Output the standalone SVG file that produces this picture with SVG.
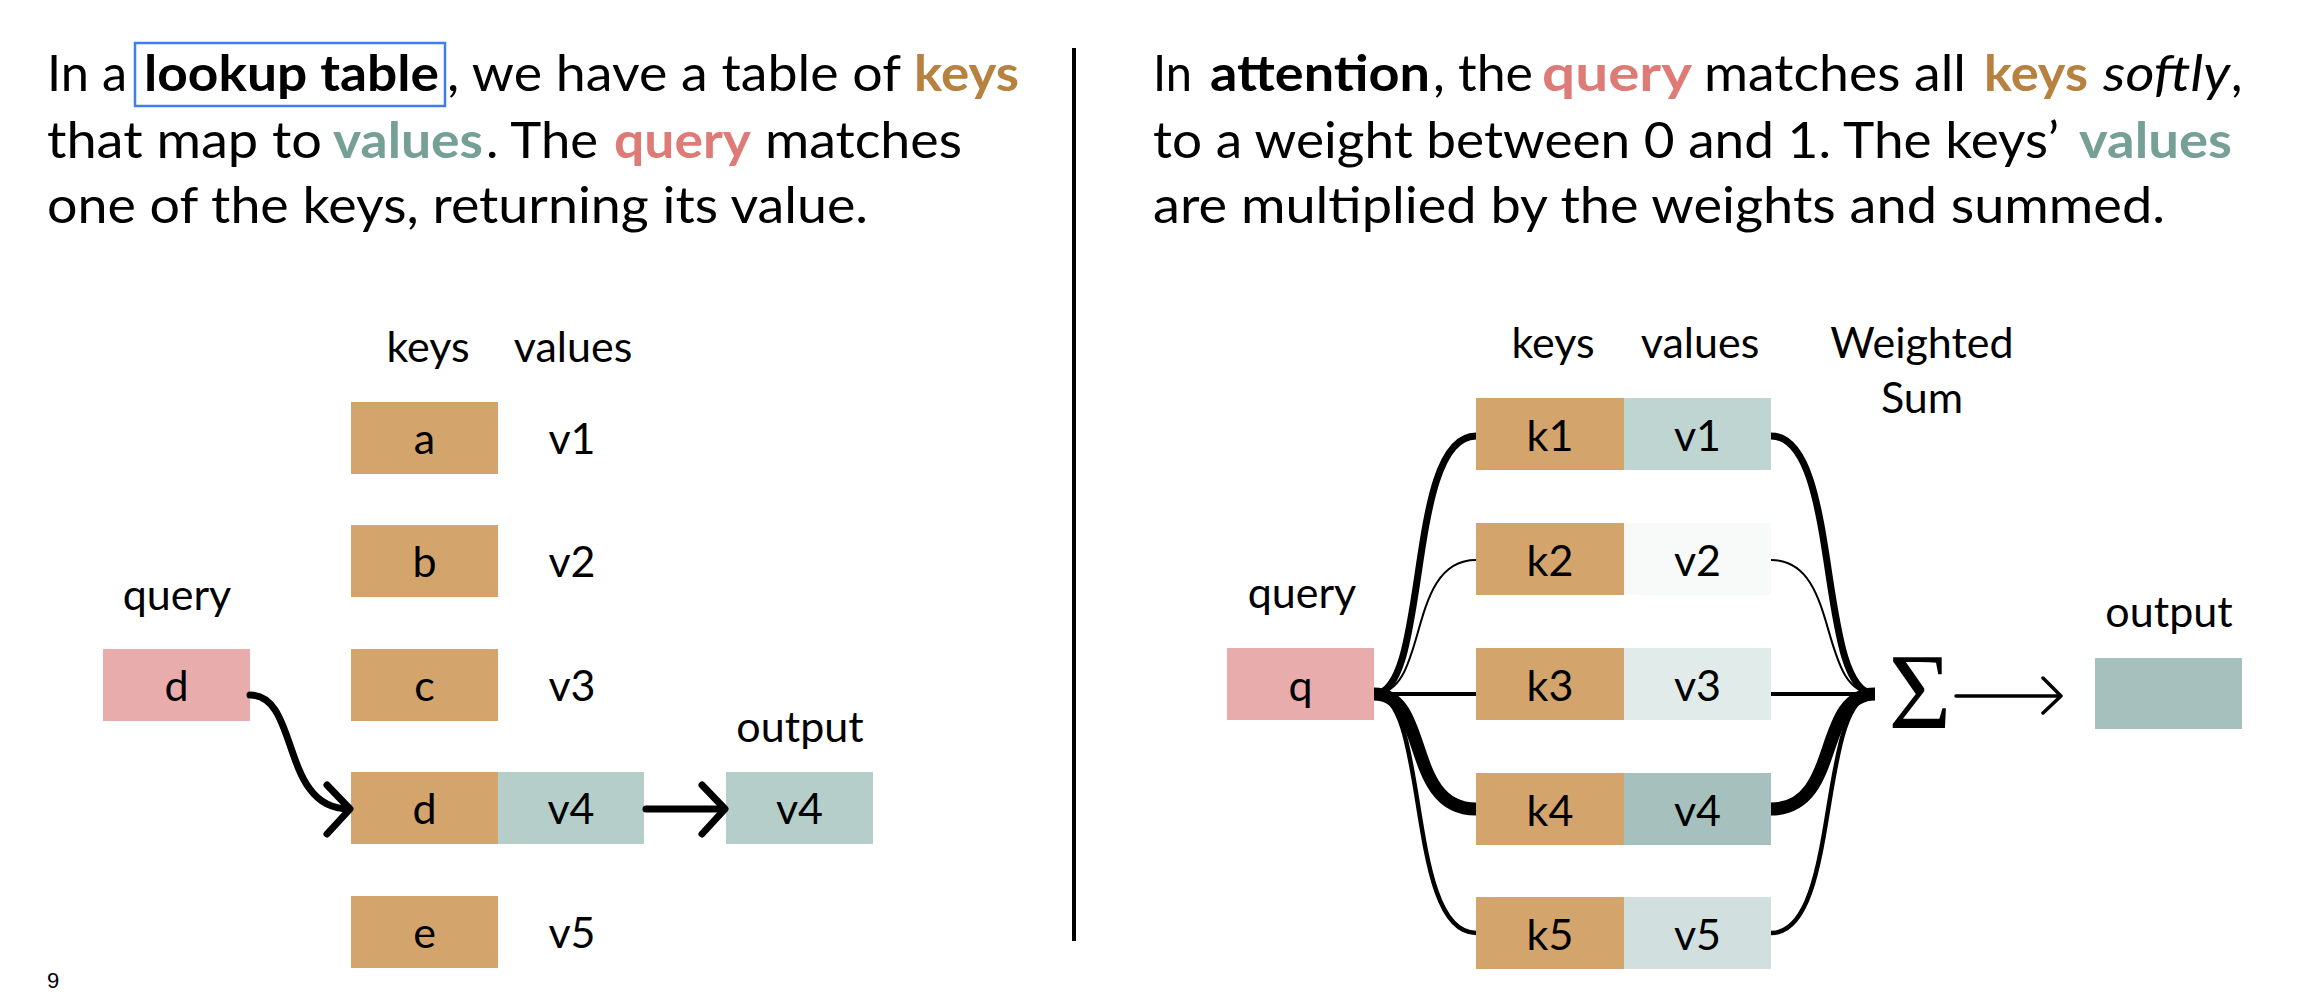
<svg xmlns="http://www.w3.org/2000/svg" width="2306" height="996" viewBox="0 0 2306 996">
<style>
.p{font-family:Lato,"Open Sans",sans-serif;font-size:50px;fill:#000}
.b{font-weight:bold}
.tan{fill:#b7813f}
.teal{fill:#76a096}
.pink{fill:#df7b77}
.lbl{font-family:Lato,"Noto Sans",sans-serif;font-size:43px;fill:#000;text-anchor:middle}
.key{fill:#d3a46c}
.qry{fill:#e8acad}
.wire{fill:none;stroke:#000;stroke-linecap:butt}
.arr{fill:none;stroke:#000;stroke-width:7;stroke-linecap:round;stroke-linejoin:round}
</style>
<rect width="2306" height="996" fill="#fff"/>

<g id="left-text">
<rect x="135" y="43" width="310" height="63" fill="none" stroke="#3d7ef0" stroke-width="2.5"/>
<text class="p" x="47" y="91" textLength="80" lengthAdjust="spacingAndGlyphs">In a</text>
<text class="p b" x="144" y="91" textLength="295" lengthAdjust="spacingAndGlyphs">lookup table</text>
<text class="p" x="447" y="91" textLength="454" lengthAdjust="spacingAndGlyphs">, we have a table of</text>
<text class="p b tan" x="914" y="91" textLength="105" lengthAdjust="spacingAndGlyphs">keys</text>
<text class="p" x="47" y="158" textLength="275" lengthAdjust="spacingAndGlyphs">that map to</text>
<text class="p b teal" x="333" y="158" textLength="150" lengthAdjust="spacingAndGlyphs">values</text>
<text class="p" x="486" y="158" textLength="112" lengthAdjust="spacingAndGlyphs">. The</text>
<text class="p b pink" x="614" y="158" textLength="137" lengthAdjust="spacingAndGlyphs">query</text>
<text class="p" x="765" y="158" textLength="197" lengthAdjust="spacingAndGlyphs">matches</text>
<text class="p" x="47" y="223" textLength="821" lengthAdjust="spacingAndGlyphs">one of the keys, returning its value.</text>
</g>

<line id="divider" x1="1074" y1="48" x2="1074" y2="941" stroke="#000" stroke-width="4"/>

<g id="right-text">
<text class="p" x="1153" y="91" textLength="39" lengthAdjust="spacingAndGlyphs">In</text>
<text class="p b" x="1210" y="91" textLength="220" lengthAdjust="spacingAndGlyphs">attention</text>
<text class="p" x="1433" y="91" textLength="100" lengthAdjust="spacingAndGlyphs">, the</text>
<text class="p b pink" x="1542" y="91" textLength="150" lengthAdjust="spacingAndGlyphs">query</text>
<text class="p" x="1704" y="91" textLength="262" lengthAdjust="spacingAndGlyphs">matches all</text>
<text class="p b tan" x="1984" y="91" textLength="104" lengthAdjust="spacingAndGlyphs">keys</text>
<text class="p" x="2103" y="91" textLength="127" lengthAdjust="spacingAndGlyphs" font-style="italic">softly</text>
<text class="p" x="2231" y="91">,</text>
<text class="p" x="1153" y="158" textLength="906" lengthAdjust="spacingAndGlyphs">to a weight between 0 and 1. The keys’</text>
<text class="p b teal" x="2079" y="158" textLength="153" lengthAdjust="spacingAndGlyphs">values</text>
<text class="p" x="1153" y="223" textLength="1012" lengthAdjust="spacingAndGlyphs">are multiplied by the weights and summed.</text>
</g>

<!-- Left: lookup table -->
<g id="lt-headers">
<text class="lbl" x="428" y="362">keys</text>
<text class="lbl" x="573" y="362">values</text>
</g>
<g id="lt-row-a"><rect class="key" x="351" y="402" width="147" height="72"/><text class="lbl" x="424.5" y="454">a</text><text class="lbl" x="572" y="454">v1</text></g>
<g id="lt-row-b"><rect class="key" x="351" y="525" width="147" height="72"/><text class="lbl" x="424.5" y="577">b</text><text class="lbl" x="572" y="577">v2</text></g>
<g id="lt-row-c"><rect class="key" x="351" y="649" width="147" height="72"/><text class="lbl" x="424.5" y="701">c</text><text class="lbl" x="572" y="701">v3</text></g>
<g id="lt-row-d"><rect class="key" x="351" y="772" width="147" height="72"/><rect x="498" y="772" width="146" height="72" fill="#b6cec9"/><text class="lbl" x="424.5" y="824">d</text><text class="lbl" x="571" y="824">v4</text></g>
<g id="lt-row-e"><rect class="key" x="351" y="896" width="147" height="72"/><text class="lbl" x="424.5" y="948">e</text><text class="lbl" x="572" y="948">v5</text></g>
<g id="lt-query"><text class="lbl" x="177" y="610">query</text><rect class="qry" x="103" y="649" width="147" height="72"/><text class="lbl" x="176.5" y="701">d</text></g>
<g id="lt-output"><text class="lbl" x="800" y="742">output</text><rect x="726" y="772" width="147" height="72" fill="#b6cec9"/><text class="lbl" x="799.5" y="824">v4</text></g>

<g id="lt-connectors">
<path class="arr" d="M250,695 C300,695 280,809 349,809"/>
<path class="arr" d="M327,785 L350,809 L327,834"/>
<path class="arr" d="M646,809 L724,809" stroke-linecap="butt"/>
<path class="arr" d="M702,785 L725,809 L702,834"/>
</g>

<!-- Right: attention -->
<g id="at-headers">
<text class="lbl" x="1553" y="358">keys</text>
<text class="lbl" x="1700" y="358">values</text>
<text class="lbl" x="1922" y="358">Weighted</text>
<text class="lbl" x="1922" y="413">Sum</text>
</g>

<g id="at-connectors">
<path class="wire" stroke-width="7" d="M1374,694 C1430,694 1405,436 1476,436"/>
<path class="wire" stroke-width="2" d="M1374,694 C1430,694 1405,560 1476,560"/>
<path class="wire" stroke-width="4" d="M1374,694 L1476,694"/>
<path class="wire" stroke-width="13" d="M1374,694 C1430,694 1405,809 1476,809"/>
<path class="wire" stroke-width="4.5" d="M1374,694 C1430,694 1405,933 1476,933"/>
<path class="wire" stroke-width="7" d="M1771,436 C1842,436 1816,694 1875,694"/>
<path class="wire" stroke-width="2" d="M1771,560 C1842,560 1816,694 1875,694"/>
<path class="wire" stroke-width="4" d="M1771,694 L1875,694"/>
<path class="wire" stroke-width="13" d="M1771,809 C1842,809 1816,694 1875,694"/>
<path class="wire" stroke-width="4.5" d="M1771,933 C1842,933 1816,694 1875,694"/>
<path fill="none" stroke="#000" stroke-width="3.5" stroke-linecap="round" stroke-linejoin="round" d="M1956,696 L2061,696 M2043,678 L2061,696 L2043,713"/>
</g>

<g id="at-row1"><rect class="key" x="1476" y="398" width="148" height="72"/><rect x="1624" y="398" width="147" height="72" fill="#bfd5d2"/><text class="lbl" x="1550" y="451">k1</text><text class="lbl" x="1697.5" y="451">v1</text></g>
<g id="at-row2"><rect class="key" x="1476" y="523" width="148" height="72"/><rect x="1624" y="523" width="147" height="72" fill="#f8fafa"/><text class="lbl" x="1550" y="576">k2</text><text class="lbl" x="1697.5" y="576">v2</text></g>
<g id="at-row3"><rect class="key" x="1476" y="648" width="148" height="72"/><rect x="1624" y="648" width="147" height="72" fill="#e1ebea"/><text class="lbl" x="1550" y="701">k3</text><text class="lbl" x="1697.5" y="701">v3</text></g>
<g id="at-row4"><rect class="key" x="1476" y="773" width="148" height="72"/><rect x="1624" y="773" width="147" height="72" fill="#a6c1bd"/><text class="lbl" x="1550" y="826">k4</text><text class="lbl" x="1697.5" y="826">v4</text></g>
<g id="at-row5"><rect class="key" x="1476" y="897" width="148" height="72"/><rect x="1624" y="897" width="147" height="72" fill="#d1e0de"/><text class="lbl" x="1550" y="950">k5</text><text class="lbl" x="1697.5" y="950">v5</text></g>
<g id="at-query"><text class="lbl" x="1302" y="608">query</text><rect class="qry" x="1227" y="648" width="147" height="72"/><text class="lbl" x="1300.5" y="701">q</text></g>
<g id="at-sum"><text x="1920" y="728" font-family="'Liberation Serif',serif" font-size="108" text-anchor="middle">Σ</text></g>
<g id="at-output"><text class="lbl" x="2169" y="627">output</text><rect x="2095" y="658" width="147" height="71" fill="#a6c1bd"/></g>

<text id="page-num" x="47" y="988" font-family="'Liberation Sans',sans-serif" font-size="22">9</text>
</svg>
